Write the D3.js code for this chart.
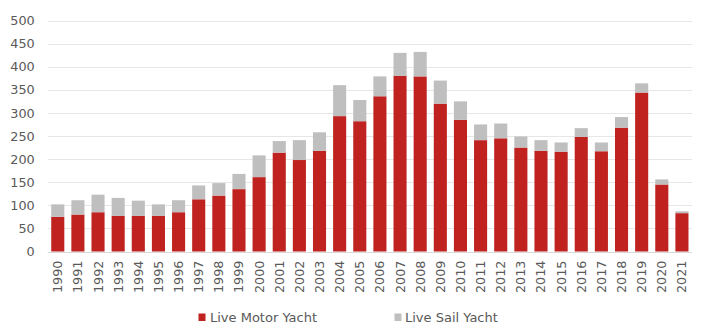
<!DOCTYPE html>
<html>
<head>
<meta charset="utf-8">
<script src="https://cdn.jsdelivr.net/npm/d3@7"></script>
<style>
  html, body { margin: 0; padding: 0; background: #fff; }
  svg { display: block; font-family: "DejaVu Sans", Verdana, sans-serif; }
</style>
</head>
<body>
<svg id="chart" width="708" height="327"></svg>
<script>
// Yachts by year: motor and sail counts (stacked)
const years = ["1990","1991","1992","1993","1994","1995","1996","1997","1998","1999",
               "2000","2001","2002","2003","2004","2005","2006","2007","2008","2009",
               "2010","2011","2012","2013","2014","2015","2016","2017","2018","2019",
               "2020","2021"];
const motorYacht = [75, 80, 85, 77, 77, 77, 85, 113, 121, 135,
                    161, 214, 198, 218, 293, 282, 336, 380, 379, 320,
                    285, 241, 245, 225, 218, 216, 248, 217, 268, 344,
                    145, 83];
const sailYacht  = [27, 31, 38, 39, 33, 25, 26, 30, 27, 33,
                    47, 25, 43, 40, 67, 46, 43, 50, 53, 50,
                    40, 34, 32, 24, 23, 20, 19, 19, 23, 20,
                    11, 4];
const yTicks = [0, 50, 100, 150, 200, 250, 300, 350, 400, 450, 500];
const seriesNames = ["Live Motor Yacht", "Live Sail Yacht"];
const seriesColors = ["#c0231f", "#bfbfbf"];

const svg = d3.select("#chart");
const margin = { left: 47.7, right: 16, top: 20.5, bottom: 75.5 };
const W = 708, H = 327;

const x = d3.scaleBand()
  .domain(years)
  .range([margin.left, W - margin.right])
  .paddingInner(0.35)
  .paddingOuter(0.175);

const y = d3.scaleLinear()
  .domain([0, 500])
  .range([H - margin.bottom, margin.top]);

// gridlines
svg.append("g")
  .selectAll("line")
  .data(yTicks)
  .join("line")
  .attr("x1", margin.left)
  .attr("x2", W - margin.right)
  .attr("y1", d => Math.round(y(d)) + 0.5)
  .attr("y2", d => Math.round(y(d)) + 0.5)
  .attr("stroke", d => d === 0 ? "#d9d9d9" : "#e6e6e6")
  .attr("stroke-width", 1);

// y axis labels
const yAxis = d3.axisLeft(y).tickValues(yTicks).tickSize(0).tickPadding(0);
const gy = svg.append("g")
  .attr("transform", `translate(${margin.left - 13},0)`)
  .call(yAxis);
gy.select(".domain").remove();
gy.selectAll("text")
  .attr("fill", "#595959")
  .style("font-size", "12.8px")
  .style("font-family", "'DejaVu Sans', Verdana, sans-serif");

// stacked bars
const rows = years.map((yr, i) => ({ year: yr, motor: motorYacht[i], sail: sailYacht[i] }));
const stack = d3.stack().keys(["motor", "sail"])(rows);

svg.append("g")
  .selectAll("g")
  .data(stack)
  .join("g")
  .attr("fill", (d, i) => seriesColors[i])
  .selectAll("rect")
  .data(d => d)
  .join("rect")
  .attr("x", d => x(d.data.year))
  .attr("width", x.bandwidth())
  .attr("y", d => y(d[1]))
  .attr("height", d => y(d[0]) - y(d[1]));

// x axis labels (rotated)
const xAxis = d3.axisBottom(x).tickSize(0).tickPadding(0);
const gx = svg.append("g")
  .attr("transform", `translate(0,${H - margin.bottom})`)
  .call(xAxis);
gx.select(".domain").remove();
gx.selectAll("text")
  .attr("fill", "#595959")
  .style("font-size", "12.8px")
  .style("font-family", "'DejaVu Sans', Verdana, sans-serif")
  .attr("text-anchor", "end")
  .attr("dy", "0.35em")
  .attr("transform", "translate(0,9) rotate(-90)")
  .attr("x", 0)
  .attr("y", 0);

// legend
const legendItems = [
  { name: seriesNames[0], color: seriesColors[0], sx: 198.5, tx: 210 },
  { name: seriesNames[1], color: seriesColors[1], sx: 394.5, tx: 405 }
];
const lg = svg.append("g");
legendItems.forEach(it => {
  lg.append("rect")
    .attr("x", it.sx).attr("y", 313.5)
    .attr("width", 7).attr("height", 7.5)
    .attr("fill", it.color);
  lg.append("text")
    .attr("x", it.tx).attr("y", 322)
    .attr("fill", "#595959")
    .style("font-size", "13px")
    .text(it.name);
});
</script>
</body>
</html>
